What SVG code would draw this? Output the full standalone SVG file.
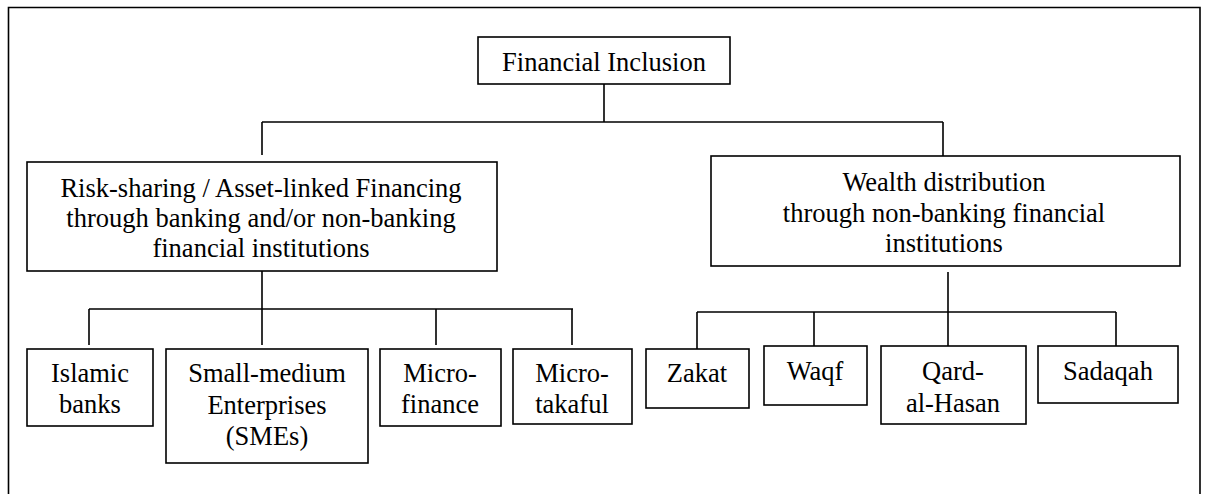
<svg xmlns="http://www.w3.org/2000/svg" width="1208" height="494" viewBox="0 0 1208 494">
<style>
.box{fill:#fff;stroke:#000;stroke-width:1.6}
.ln{fill:none;stroke:#000;stroke-width:1.6}
.t{font-family:"Liberation Serif","Times New Roman",serif;font-size:26.5px;fill:#000;text-anchor:middle}
</style>
<rect width="1208" height="494" fill="#fff"/>
<path class="ln" d="M8.5,500 V7.5 H1200 V500"/>
<g id="connectors">
<path class="ln" d="M604,84 V122 M262,122 H943 M262,122 V155 M943,122 V156"/>
<path class="ln" d="M262,271 V345 M89,309 H573 M89,309 V345 M436,309 V345 M572,309 V345"/>
<path class="ln" d="M948,272 V346 M697,312 H1116 M697,312 V349 M814,312 V346 M1116,312 V346"/>
</g>
<g id="financial-inclusion"><rect class="box" x="478" y="37" width="252" height="47"/><text class="t" x="604" y="71">Financial Inclusion</text></g>
<g id="risk-sharing"><rect class="box" x="27" y="162" width="470" height="109"/><text class="t" x="261" y="197">Risk-sharing / Asset-linked Financing</text><text class="t" x="261" y="227">through banking and/or non-banking</text><text class="t" x="261" y="257">financial institutions</text></g>
<g id="wealth-distribution"><rect class="box" x="711" y="156" width="469" height="110"/><text class="t" x="944" y="191">Wealth distribution</text><text class="t" x="944" y="222">through non-banking financial</text><text class="t" x="944" y="252">institutions</text></g>
<g id="islamic-banks"><rect class="box" x="27" y="349" width="126" height="77"/><text class="t" x="90" y="382">Islamic</text><text class="t" x="90" y="413">banks</text></g>
<g id="smes"><rect class="box" x="166" y="349" width="202" height="114"/><text class="t" x="267" y="382">Small-medium</text><text class="t" x="267" y="414">Enterprises</text><text class="t" x="267" y="445">(SMEs)</text></g>
<g id="micro-finance"><rect class="box" x="380" y="349" width="121" height="77"/><text class="t" x="440" y="382">Micro-</text><text class="t" x="440" y="413">finance</text></g>
<g id="micro-takaful"><rect class="box" x="513" y="349" width="119" height="75"/><text class="t" x="572" y="382">Micro-</text><text class="t" x="572" y="413">takaful</text></g>
<g id="zakat"><rect class="box" x="646" y="349" width="103" height="59"/><text class="t" x="697" y="382">Zakat</text></g>
<g id="waqf"><rect class="box" x="764" y="346" width="103" height="59"/><text class="t" x="815" y="380">Waqf</text></g>
<g id="qard-al-hasan"><rect class="box" x="881" y="346" width="145" height="78"/><text class="t" x="953" y="380">Qard-</text><text class="t" x="953" y="412">al-Hasan</text></g>
<g id="sadaqah"><rect class="box" x="1038" y="346" width="140" height="57"/><text class="t" x="1108" y="380">Sadaqah</text></g>
</svg>
